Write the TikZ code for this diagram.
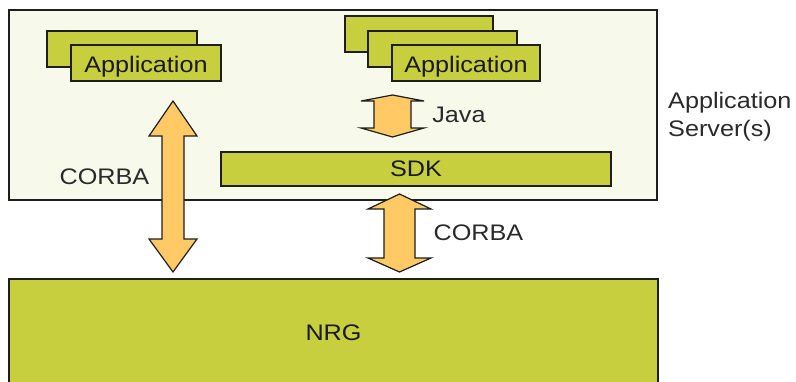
\documentclass[tikz,border=0pt]{standalone}
\usepackage{fontspec}
\setmainfont{Liberation Sans}[FakeStretch=1.12]
\definecolor{appgreen}{HTML}{C7CF3F}
\definecolor{srvbg}{HTML}{F7F9EB}
\definecolor{arrorange}{HTML}{FFC966}
\definecolor{edge}{HTML}{1E1E1E}
\definecolor{lbl}{HTML}{2A2A2A}
\newcommand{\dblarrow}[7]{% x, ytop, ybot, head half width, shaft half width, top head len, bottom head len
  \fill[arrorange] (#1,#2) -- ({#1+#4},{#2+#6}) -- ({#1+#5},{#2+#6}) -- ({#1+#5},{#3-#7}) -- ({#1+#4},{#3-#7}) -- (#1,#3) -- ({#1-#4},{#3-#7}) -- ({#1-#5},{#3-#7}) -- ({#1-#5},{#2+#6}) -- ({#1-#4},{#2+#6}) -- cycle;
  \draw[arrline] (#1,#2) -- ({#1+#4},{#2+#6}) -- ({#1+#5},{#2+#6}) -- ({#1+#5},{#3-#7}) -- ({#1+#4},{#3-#7}) -- (#1,#3) -- ({#1-#4},{#3-#7}) -- ({#1-#5},{#3-#7}) -- ({#1-#5},{#2+#6}) -- ({#1-#4},{#2+#6}) -- cycle;}
\begin{document}
\begin{tikzpicture}[x=1pt,y=-1pt,
  greenbox/.style={draw=edge, fill=appgreen, line width=1.3pt},
  arrline/.style={draw=edge, line width=1.2pt, line join=miter},
  boxtext/.style={font=\fontsize{22.5}{26}\selectfont, text=black!90},
  lbltext/.style={font=\fontsize{22.5}{26}\selectfont, text=lbl, inner sep=0pt}]
\useasboundingbox (0,0) rectangle (796,381);
\fill[white] (0,0) rectangle (796,381);
% application server area
\draw[draw=edge, fill=srvbg, line width=1.3pt] (9,10) rectangle (657,200);
% left application stack
\draw[greenbox] (47,31) rectangle (197,67);
\node[greenbox, minimum width=150pt, minimum height=36pt, inner sep=0pt, text height=18pt, text depth=0pt, boxtext] (appL) at (146,63) {Application};
% right application stack
\draw[greenbox] (345,16) rectangle (493,52);
\draw[greenbox] (368,31) rectangle (517,67);
\node[greenbox, minimum width=148pt, minimum height=36pt, inner sep=0pt, text height=18pt, text depth=0pt, boxtext] (appR) at (466,63) {Application};
% SDK
\node[greenbox, minimum width=390pt, minimum height=34pt, inner sep=0pt, boxtext] (sdk) at (416,169) {SDK};
% NRG
\fill[appgreen] (9,279) rectangle (658,390);
\draw[draw=edge, line width=1.3pt] (9,392) -- (9,279) -- (658,279) -- (658,392);
\node[boxtext, inner sep=0pt] (nrg) at (333.5,333) {NRG};
% arrows
\dblarrow{173}{101}{272}{24}{11}{35}{33}
\dblarrow{392.5}{95}{137}{31.5}{18.5}{6}{9}
\dblarrow{399.5}{194}{272}{31.5}{15.5}{15}{14}
% labels
\node[lbltext] (corbaL) at (104.5,177) {CORBA};
\node[lbltext] (java) at (459,115) {Java};
\node[lbltext] (corbaR) at (478.5,233) {CORBA};
\node[lbltext, anchor=west, align=left] (srv) at (668,117) {Application\\[2pt]Server(s)};
\end{tikzpicture}
\end{document}
